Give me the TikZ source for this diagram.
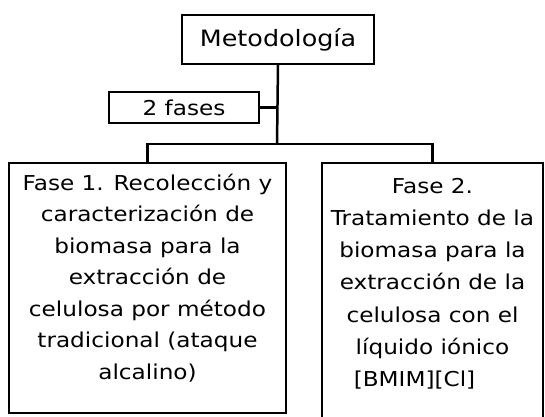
\documentclass[tikz,border=0pt]{standalone}
\usepackage{fontspec}
\setmainfont{DejaVu Sans}[FakeStretch=1.13]
\usetikzlibrary{positioning}

\begin{document}
\begin{tikzpicture}[x = 1pt, y = -1pt,
		caja/.style = {draw, line width = 2pt, inner sep = 0pt, align = center},
		texto/.style = {font = \fontsize{20.5}{31.5}\selectfont}]
	\useasboundingbox (0,0) rectangle (545,416);

	\node [caja, font = \fontsize{22.5}{30}\selectfont, minimum width = 192pt, minimum height = 49pt] (metodo) at (278,39.5) {Metodología};
	\node [caja, texto, minimum width = 150pt, minimum height = 31pt] (fases) at (184,107.5) {2 fases};

	\node [caja, texto, minimum width = 277pt, minimum height = 250pt] (fase1) at (147.5,288)
		{\parbox[c][250pt][t]{275pt}{\centering\rule{0pt}{27pt}%
		Fase 1. Recolección y\\ caracterización de\\ biomasa para la\\ extracción de\\
		celulosa por método\\ tradicional (ataque\\ alcalino)}};
	\node [caja, texto, minimum width = 221pt, minimum height = 258pt] (fase2) at (432.5,292)
		{\parbox[c][258pt][t]{221pt}{\centering\baselineskip=32.3pt\rule{0pt}{30pt}%
		Fase 2.\\ Tratamiento de la\\ biomasa para la\\ extracción de la\\
		celulosa con el\\ líquido iónico\\ {[BMIM][Cl]}\hspace*{36pt}}};

	\begin{scope}[line width = 2.5pt]
		\coordinate (bar) at (277,144);
		\draw (metodo.south) -- (bar);
		\draw (fases.east) -- (fases.east -| bar);
		\draw (fase1.north) |- (bar) -| (fase2.north);
	\end{scope}
\end{tikzpicture}
\end{document}
